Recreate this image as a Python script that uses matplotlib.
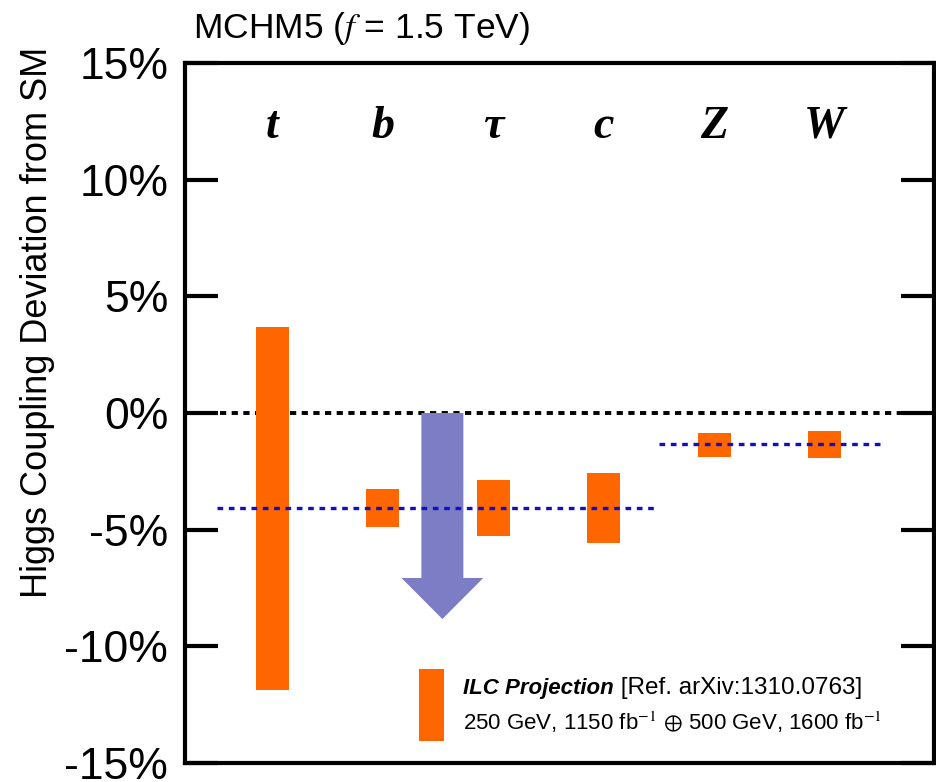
import matplotlib.pyplot as plt
from matplotlib.patches import FancyArrow, Rectangle

plt.rcParams['font.family'] = ['Liberation Sans', 'DejaVu Sans']
plt.rcParams['mathtext.fontset'] = 'stix'

# couplings and projected deviation ranges (percent)
couplings = ['t', 'b', 'τ', 'c', 'Z', 'W']
band_top = [3.7, -3.26, -2.88, -2.58, -0.85, -0.78]
band_bottom = [-11.87, -4.89, -5.27, -5.58, -1.88, -1.94]

# MCHM5 predictions: fermions and vector bosons
fermion_shift = -4.07
boson_shift = -1.33
arrow_x = 1.54
arrow_end = -8.83

yticks = [15, 10, 5, 0, -5, -10, -15]
orange = '#ff6600'

fig = plt.figure(figsize=(9.37, 7.82), dpi=100)
ax = fig.add_axes([0.1974, 0.0243, 0.7994, 0.8951])

# orange bands
for i, (hi, lo) in enumerate(zip(band_top, band_bottom)):
    ax.bar(i, hi - lo, bottom=lo, width=0.3, color=orange, zorder=2)

# SM reference line
ax.axhline(0, color='black', lw=2.8, dashes=(1.6, 1.4), zorder=1)

# model predictions
ax.plot([-0.5, 3.5], [fermion_shift] * 2, color='#1010c0', lw=2.4,
        dashes=(1.7, 1.7), zorder=3)
ax.plot([3.5, 5.5], [boson_shift] * 2, color='#1010c0', lw=2.4,
        dashes=(1.7, 1.7), zorder=3)

ax.add_patch(FancyArrow(arrow_x, 0, 0, arrow_end, width=0.38, head_width=0.74,
                        head_length=1.76, length_includes_head=True,
                        color='#7d7dc5', lw=0, zorder=2.5))

# coupling names
for i, name in enumerate(couplings):
    ax.text(i, 11.8, name, ha='center', va='baseline', fontsize=33,
            family='Liberation Serif', style='italic', weight='bold')

ax.set_xlim(-0.79, 5.99)
ax.set_ylim(-15, 15)
ax.set_xticks([])
ax.set_yticks(yticks)
ax.set_yticklabels([f'{v}%' for v in yticks], fontsize=32)
ax.tick_params(axis='y', direction='in', length=24, width=3, pad=12,
               right=True)
for s in ax.spines.values():
    s.set_linewidth(3)

# legend box
ax.add_patch(Rectangle((0.312, 0.0314), 0.0334, 0.1029, transform=ax.transAxes,
                       color=orange, lw=0))
head = ax.text(0.371, 0.107, 'ILC Projection', transform=ax.transAxes,
               va='center', fontsize=16, style='italic', weight='bold')
ax.annotate(' [Ref. arXiv:1310.0763]', xy=(1, 0.5), xycoords=head,
            va='center', ha='left', fontsize=17.5)
ax.text(0.371, 0.0586, r'250 GeV, 1150 fb$^{-1}$ $\oplus$ 500 GeV, 1600 fb$^{-1}$',
        transform=ax.transAxes, va='center', fontsize=16)

fig.text(0.206, 0.964, r'MCHM5 ($f$ = 1.5 TeV)', fontsize=25.5, va='center')
fig.text(0.04, 0.588, 'Higgs Coupling Deviation from SM', rotation=90,
         ha='center', va='center', fontsize=26)

fig.savefig('out.png', dpi=100)
